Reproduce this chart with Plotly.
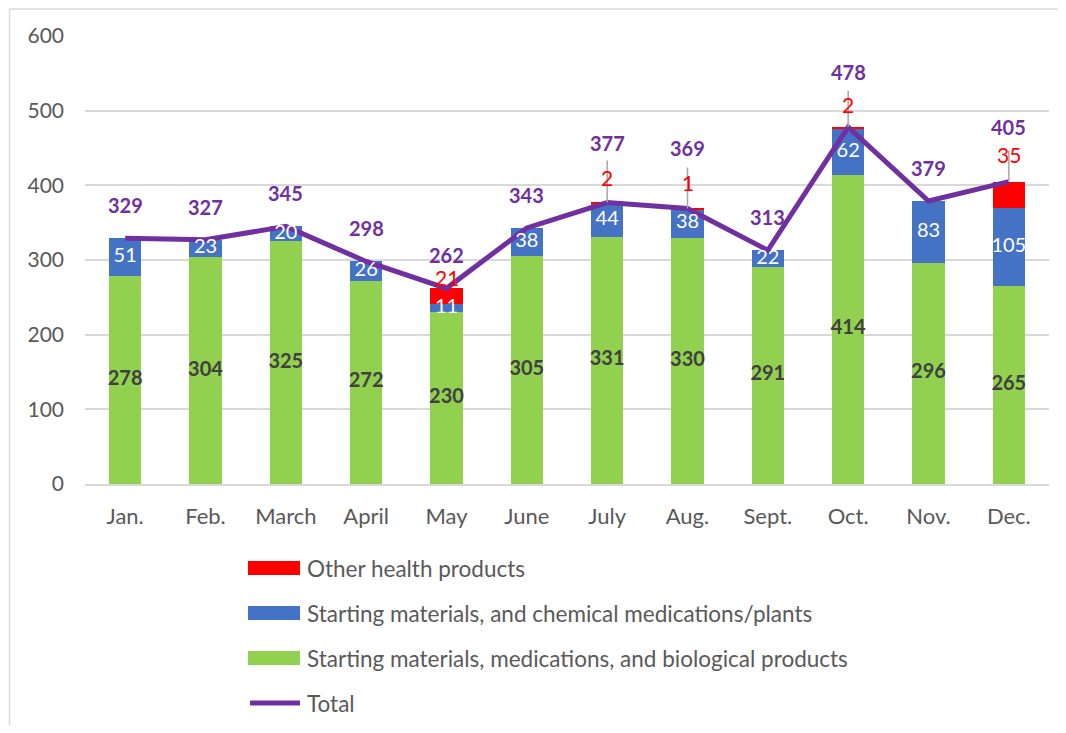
import plotly.graph_objects as go

months = ["Jan.", "Feb.", "March", "April", "May", "June", "July", "Aug.", "Sept.", "Oct.", "Nov.", "Dec."]
bio = [278, 304, 325, 272, 230, 305, 331, 330, 291, 414, 296, 265]
chem = [51, 23, 20, 26, 11, 38, 44, 38, 22, 62, 83, 105]
other = [0, 0, 0, 0, 21, 0, 2, 1, 0, 2, 0, 35]
total = [329, 327, 345, 298, 262, 343, 377, 369, 313, 478, 379, 405]

names = ["Other health products",
         "Starting materials, and chemical medications/plants",
         "Starting materials, medications, and biological products",
         "Total"]

GREEN = "#92D050"
BLUE = "#4472C4"
RED = "#FF0000"
PURPLE = "#7030A0"
FONT = "Lato"
GRAY = "#595959"

# style: pixel offsets of labels (Excel manual label placement)
total_shift = {"July": 60, "Aug.": 60, "Oct.": 55, "Dec.": 55}
red_shift = {"May": 19, "July": 26, "Aug.": 26, "Oct.": 23, "Dec.": 40}
leader_len = {"July": 42, "Aug.": 41, "Oct.": 36, "Dec.": 31}

fig = go.Figure()
fig.add_trace(go.Bar(x=months, y=bio, marker=dict(color=GREEN, line=dict(width=0)), name=names[2], showlegend=False))
fig.add_trace(go.Bar(x=months, y=chem, marker=dict(color=BLUE, line=dict(width=0)), name=names[1], showlegend=False))
fig.add_trace(go.Bar(x=months, y=other, marker=dict(color=RED, line=dict(width=0)), name=names[0], showlegend=False))
fig.add_trace(go.Scatter(x=months, y=total, mode="lines", line=dict(color=PURPLE, width=5), name=names[3], showlegend=False))

# segment labels (centered)
fig.add_trace(go.Scatter(x=months, y=[b / 2 for b in bio], mode="text", text=[str(v) for v in bio],
                         textposition="middle center", textfont=dict(family=FONT, size=20, color="#404040", weight="bold"),
                         showlegend=False, hoverinfo="skip"))
fig.add_trace(go.Scatter(x=months, y=[b + c / 2 for b, c in zip(bio, chem)], mode="text", text=[str(v) for v in chem],
                         textposition="middle center", textfont=dict(family=FONT, size=20, color="white"),
                         showlegend=False, hoverinfo="skip"))

annotations = []
shapes = []
for m, b, c, o, t in zip(months, bio, chem, other, total):
    if o > 0:
        if m in leader_len:
            shapes.append(dict(type="line", xref="x", yref="y", ysizemode="pixel", yanchor=b + c + o,
                               x0=m, x1=m, y0=0, y1=leader_len[m], line=dict(color="#A6A6A6", width=1.5), layer="above"))
        annotations.append(dict(x=m, y=b + c + o / 2, xref="x", yref="y", text=str(o), showarrow=False,
                                yshift=red_shift.get(m, 0), font=dict(family=FONT, size=21, color=RED)))
    annotations.append(dict(x=m, y=t, xref="x", yref="y", text="<b>%d</b>" % t, showarrow=False,
                            yshift=total_shift.get(m, 33), font=dict(family=FONT, size=20, color=PURPLE)))

# manual legend (paper coords, from screen pixel positions)
W, H, L, T = 964.0, 448.0, 85.0, 36.0
def px(x):
    return (x - L) / W
def py(y):
    return (T + H - y) / H

leg_items = [(names[0], RED, "rect", 568), (names[1], BLUE, "rect", 613), (names[2], GREEN, "rect", 658), (names[3], PURPLE, "line", 703)]
for name, col, kind, yc in leg_items:
    if kind == "rect":
        shapes.append(dict(type="rect", xref="paper", yref="paper", x0=px(248), x1=px(300), y0=py(yc - 7), y1=py(yc + 7),
                           fillcolor=col, line=dict(width=0)))
    else:
        shapes.append(dict(type="line", xref="paper", yref="paper", x0=px(250), x1=px(300), y0=py(yc), y1=py(yc),
                           line=dict(color=col, width=5)))
    annotations.append(dict(x=px(305), y=py(yc), xref="paper", yref="paper", xanchor="left", yanchor="middle",
                            text=name, showarrow=False, font=dict(family=FONT, size=22.5, color=GRAY)))

# chart-area border (left and top edges; the rest lies outside the picture)
shapes.append(dict(type="line", xref="paper", yref="paper", x0=px(9.5), x1=px(1100), y0=py(9), y1=py(9),
                   line=dict(color="#D9D9D9", width=1.5), layer="below"))
shapes.append(dict(type="line", xref="paper", yref="paper", x0=px(9.5), x1=px(9.5), y0=py(9), y1=py(800),
                   line=dict(color="#D9D9D9", width=1.5), layer="below"))

fig.update_layout(
    width=1050, height=717,
    margin=dict(l=77, r=9, t=28, b=241),
    barmode="stack", bargap=0.6,
    plot_bgcolor="white", paper_bgcolor="white",
    font=dict(family=FONT, size=20, color=GRAY),
    showlegend=False,
    annotations=annotations, shapes=shapes,
    xaxis=dict(showgrid=False, showline=True, linecolor="#D9D9D9", linewidth=2, ticks="",
               tickfont=dict(family=FONT, size=22, color=GRAY), ticklabelstandoff=12,
               range=[-0.5, 11.5], automargin=False),
    yaxis=dict(range=[0, 600], dtick=100, showgrid=True, gridcolor="#D9D9D9", gridwidth=1.5,
               zeroline=False, showline=False, tickfont=dict(family=FONT, size=21, color=GRAY),
               ticklabelstandoff=20, automargin=False),
)

fig.write_html("out.html")
